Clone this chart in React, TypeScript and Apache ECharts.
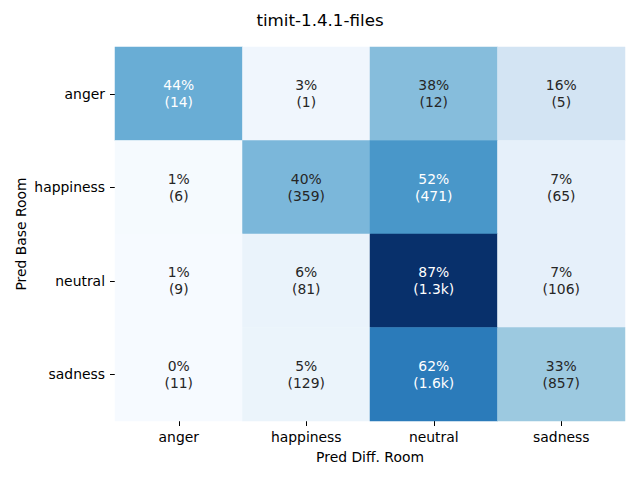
import React, { useEffect, useRef } from "react";
import * as echarts from "echarts";

const xCategories = ["anger", "happiness", "neutral", "sadness"];
const yCategories = ["anger", "happiness", "neutral", "sadness"];

// row-normalised percentages (rows = Pred Base Room, columns = Pred Diff. Room)
const pctAnger = [43.75, 3.1, 37.5, 15.6];
const pctHappiness = [0.7, 39.8, 52.3, 7.2];
const pctNeutral = [0.6, 5.6, 86.6, 7.3];
const pctSadness = [0.4, 5.0, 61.6, 33.0];

const countAnger = [14, 1, 12, 5];
const countHappiness = [6, 359, 471, 65];
const countNeutral = [9, 81, 1265, 106];
const countSadness = [11, 129, 1600, 857];

const blues = ["#f7fbff", "#deebf7", "#c6dbef", "#9ecae1", "#6baed6", "#4292c6", "#2171b5", "#08519c", "#08306b"];

const FONT = "DejaVu Sans";

function fmtCount(n: number): string {
  if (n >= 1000) return (n / 1000).toFixed(1) + "k";
  return String(n);
}

export default function App() {
  const ref = useRef<HTMLDivElement>(null);
  useEffect(() => {
    if (!ref.current) return;
    const chart = echarts.init(ref.current, null, { renderer: "svg" });
    const pctRows = [pctAnger, pctHappiness, pctNeutral, pctSadness];
    const countRows = [countAnger, countHappiness, countNeutral, countSadness];
    const data: any[] = [];
    const maxPct = Math.max(...pctRows.flat());
    pctRows.forEach((row, yi) => {
      row.forEach((p, xi) => {
        const c = countRows[yi][xi];
        data.push({
          value: [xi, yi, p],
          count: c,
          label: { color: p / maxPct > 0.47 ? "#ffffff" : "#262626" },
        });
      });
    });
    chart.setOption({
      animation: false,
      backgroundColor: "#ffffff",
      title: {
        text: "timit-1.4.1-files",
        left: "center",
        top: 6,
        textStyle: { fontFamily: FONT, fontSize: 16.7, fontWeight: "normal", color: "#000" },
      },
      grid: { left: 115, right: 15, top: 47, bottom: 59 },
      xAxis: {
        type: "category",
        data: xCategories,
        name: "Pred Diff. Room",
        nameLocation: "middle",
        nameGap: 29,
        nameMoveOverlap: false,
        nameTextStyle: { fontFamily: FONT, fontSize: 13.9, color: "#000" },
        axisLine: { show: false },
        axisTick: { show: true, alignWithLabel: true, length: 5, lineStyle: { color: "#000" } },
        axisLabel: { fontFamily: FONT, fontSize: 13.9, color: "#000", margin: 9 },
        splitLine: { show: false },
      },
      yAxis: {
        type: "category",
        data: yCategories,
        inverse: true,
        name: "Pred Base Room",
        nameLocation: "middle",
        nameGap: 87,
        nameMoveOverlap: false,
        nameRotate: 90,
        nameTextStyle: { fontFamily: FONT, fontSize: 13.9, color: "#000" },
        axisLine: { show: false },
        axisTick: { show: true, alignWithLabel: true, length: 5, lineStyle: { color: "#000" } },
        axisLabel: { fontFamily: FONT, fontSize: 13.9, color: "#000", margin: 10 },
        splitLine: { show: false },
      },
      visualMap: {
        show: false,
        min: 0,
        max: maxPct,
        dimension: 2,
        inRange: { color: blues },
      },
      series: [
        {
          type: "heatmap",
          data,
          label: {
            show: true,
            fontFamily: FONT,
            fontSize: 13.9,
            lineHeight: 16.7,
            formatter: (p: any) => `${Math.round(p.data.value[2])}%\n(${fmtCount(p.data.count)})`,
          },
          itemStyle: { borderWidth: 0 },
          emphasis: { disabled: true },
        },
      ],
    });
    return () => chart.dispose();
  }, []);
  return <div ref={ref} style={{ width: 640, height: 480, position: "absolute", left: 0, top: 0 }} />;
}
